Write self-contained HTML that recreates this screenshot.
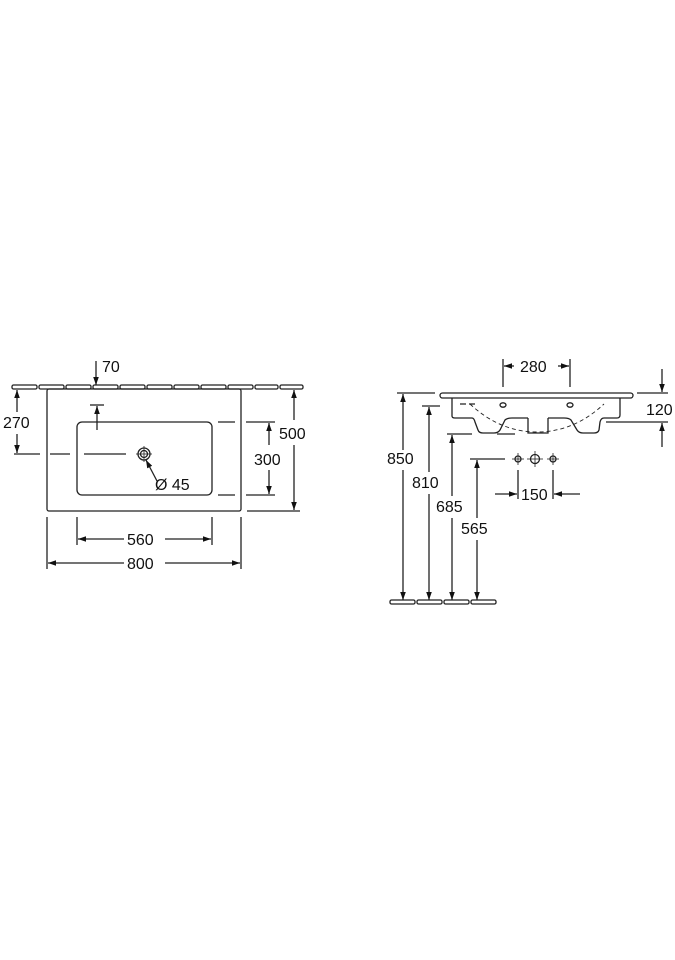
<!DOCTYPE html>
<html><head><meta charset="utf-8"><style>
html,body{margin:0;padding:0;background:#fff;}
svg{display:block;}
text{font-family:"Liberation Sans",Arial,sans-serif;font-size:16px;fill:#111;}
</style></head><body>
<svg width="675" height="960" viewBox="0 0 675 960" xmlns="http://www.w3.org/2000/svg">
<defs>
<marker id="a" viewBox="0 0 10 10" refX="10" refY="5" markerWidth="8" markerHeight="8" orient="auto-start-reverse" markerUnits="userSpaceOnUse"><path d="M0,1.5 L10,5 L0,8.5 z" fill="#111"/></marker>
</defs>
<g stroke="#222" stroke-width="1.3" fill="none">
<g fill="#fff">
<rect x="12" y="385" width="25" height="4" rx="1.5"/><rect x="39" y="385" width="25" height="4" rx="1.5"/>
<rect x="66" y="385" width="25" height="4" rx="1.5"/><rect x="93" y="385" width="25" height="4" rx="1.5"/>
<rect x="120" y="385" width="25" height="4" rx="1.5"/><rect x="147" y="385" width="25" height="4" rx="1.5"/>
<rect x="174" y="385" width="25" height="4" rx="1.5"/><rect x="201" y="385" width="25" height="4" rx="1.5"/>
<rect x="228" y="385" width="25" height="4" rx="1.5"/><rect x="255" y="385" width="23" height="4" rx="1.5"/>
<rect x="280" y="385" width="23" height="4" rx="1.5"/>
</g>
<rect x="47" y="389" width="194" height="122" rx="2"/>
<rect x="77" y="422" width="135" height="73" rx="5"/>
<circle cx="144" cy="454" r="6"/><circle cx="144" cy="454" r="3.5"/>
<line x1="136" y1="454" x2="152" y2="454" stroke-width="0.8"/><line x1="144" y1="446" x2="144" y2="462" stroke-width="0.8"/>
<line x1="157" y1="481" x2="146" y2="460" marker-end="url(#a)"/>
<line x1="14" y1="454" x2="40" y2="454"/><line x1="50" y1="454" x2="70" y2="454"/><line x1="84" y1="454" x2="126" y2="454"/>
<line x1="96" y1="361" x2="96" y2="385" marker-end="url(#a)"/>
<line x1="90" y1="405" x2="104" y2="405"/><line x1="97" y1="430" x2="97" y2="406" marker-end="url(#a)"/>
<line x1="17" y1="412" x2="17" y2="390" marker-end="url(#a)"/><line x1="17" y1="434" x2="17" y2="453" marker-end="url(#a)"/>
<line x1="218" y1="422" x2="235" y2="422"/><line x1="246" y1="422" x2="275" y2="422"/>
<line x1="218" y1="495" x2="235" y2="495"/><line x1="246" y1="495" x2="275" y2="495"/>
<line x1="269" y1="445" x2="269" y2="423" marker-end="url(#a)"/><line x1="269" y1="470" x2="269" y2="494" marker-end="url(#a)"/>
<line x1="247" y1="511" x2="300" y2="511"/>
<line x1="294" y1="420" x2="294" y2="390" marker-end="url(#a)"/><line x1="294" y1="445" x2="294" y2="510" marker-end="url(#a)"/>
<line x1="77" y1="517" x2="77" y2="545"/><line x1="212" y1="517" x2="212" y2="545"/>
<line x1="47" y1="517" x2="47" y2="569"/><line x1="241" y1="517" x2="241" y2="569"/>
<line x1="124" y1="539" x2="78" y2="539" marker-end="url(#a)"/><line x1="165" y1="539" x2="211" y2="539" marker-end="url(#a)"/>
<line x1="124" y1="563" x2="48" y2="563" marker-end="url(#a)"/><line x1="165" y1="563" x2="240" y2="563" marker-end="url(#a)"/>

<rect x="440" y="393" width="193" height="5" rx="2.5" fill="#fff"/>
<path d="M452,398 V416 Q452,418 455,418 H472 Q474,418 475,422 L478,430 Q479,433 483,433 H494 Q498,433 500,430 L505,420 Q507,418 512,418 H528"/>
<path d="M528,418 V433 H548 V418"/>
<path d="M548,418 H564 Q569,418 571,420 L577,430 Q579,433 583,433 H594 Q598,433 599,430 L600,422 Q601,418 604,418 H617 Q620,418 620,415 V398"/>
<path d="M470,404 Q500,432 537,432 Q574,432 604,404" stroke-dasharray="4,3" stroke-width="0.9"/>
<line x1="460" y1="404" x2="478" y2="404" stroke-dasharray="6,3"/>
<ellipse cx="503" cy="405" rx="3" ry="2.2"/><ellipse cx="570" cy="405" rx="3" ry="2.2"/>
<line x1="503" y1="359" x2="503" y2="387"/><line x1="570" y1="359" x2="570" y2="387"/>
<line x1="514" y1="366" x2="504" y2="366" marker-end="url(#a)"/><line x1="558" y1="366" x2="569" y2="366" marker-end="url(#a)"/>
<line x1="637" y1="393" x2="668" y2="393"/><line x1="606" y1="422" x2="668" y2="422"/>
<line x1="662" y1="369" x2="662" y2="392" marker-end="url(#a)"/><line x1="662" y1="447" x2="662" y2="423" marker-end="url(#a)"/>
<line x1="397" y1="393" x2="435" y2="393"/>
<line x1="422" y1="406" x2="440" y2="406"/>
<line x1="447" y1="434" x2="472" y2="434"/><line x1="497" y1="434" x2="515" y2="434"/>
<line x1="470" y1="459" x2="505" y2="459"/>
<line x1="403" y1="450" x2="403" y2="394" marker-end="url(#a)"/><line x1="403" y1="470" x2="403" y2="600" marker-end="url(#a)"/>
<line x1="429" y1="472" x2="429" y2="407" marker-end="url(#a)"/><line x1="429" y1="494" x2="429" y2="600" marker-end="url(#a)"/>
<line x1="452" y1="496" x2="452" y2="435" marker-end="url(#a)"/><line x1="452" y1="518" x2="452" y2="600" marker-end="url(#a)"/>
<line x1="477" y1="518" x2="477" y2="460" marker-end="url(#a)"/><line x1="477" y1="540" x2="477" y2="600" marker-end="url(#a)"/>
<g fill="#fff">
<rect x="390" y="600" width="25" height="4" rx="1.5"/><rect x="417" y="600" width="25" height="4" rx="1.5"/>
<rect x="444" y="600" width="25" height="4" rx="1.5"/><rect x="471" y="600" width="25" height="4" rx="1.5"/>
</g>
<circle cx="518" cy="459" r="3"/><line x1="512" y1="459" x2="524" y2="459" stroke-width="0.8"/><line x1="518" y1="453" x2="518" y2="465" stroke-width="0.8"/>
<circle cx="535" cy="459" r="4.5"/><line x1="527" y1="459" x2="543" y2="459" stroke-width="0.8"/><line x1="535" y1="451" x2="535" y2="467" stroke-width="0.8"/>
<circle cx="553" cy="459" r="3"/><line x1="547" y1="459" x2="559" y2="459" stroke-width="0.8"/><line x1="553" y1="453" x2="553" y2="465" stroke-width="0.8"/>
<line x1="518" y1="470" x2="518" y2="499"/><line x1="553" y1="470" x2="553" y2="499"/>
<line x1="495" y1="494" x2="517" y2="494" marker-end="url(#a)"/><line x1="580" y1="494" x2="554" y2="494" marker-end="url(#a)"/>
</g>
<text x="102" y="372">70</text>
<text x="3" y="428">270</text>
<text x="254" y="465">300</text>
<text x="279" y="439">500</text>
<text x="155" y="490">Ø 45</text>
<text x="127" y="545">560</text>
<text x="127" y="569">800</text>
<text x="520" y="372">280</text>
<text x="646" y="415">120</text>
<text x="387" y="464">850</text>
<text x="412" y="488">810</text>
<text x="436" y="512">685</text>
<text x="461" y="534">565</text>
<text x="521" y="500">150</text>
</svg>
</body></html>
